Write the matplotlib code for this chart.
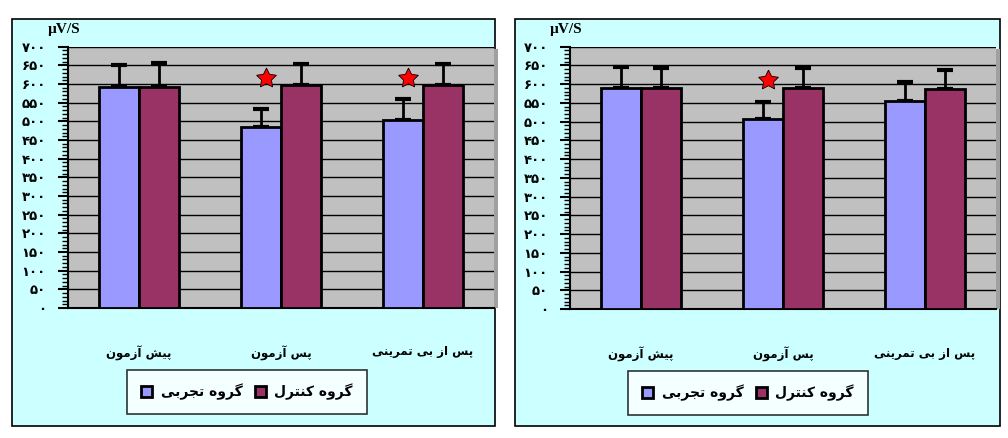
import matplotlib
matplotlib.use('Agg')
import matplotlib.pyplot as plt
from matplotlib.patches import Rectangle
from matplotlib.ticker import MultipleLocator, FuncFormatter
import numpy as np

# data
categories = ['پیش آزمون', 'پس آزمون', 'پس از بی تمرینی']
series_names = ['گروه تجربی', 'گروه کنترل']

left_exp = [591, 484, 504]
left_exp_err = [60, 48, 56]
left_ctl = [591, 597, 597]
left_ctl_err = [64, 57, 57]
left_sig = [False, True, True]

right_exp = [591, 508, 555]
right_exp_err = [56, 45, 51]
right_ctl = [591, 591, 587]
right_ctl_err = [51, 51, 52]
right_sig = [False, True, False]

unit_label = 'µV/S'

# --- tiny Persian shaper (matplotlib 3.10 has no Arabic shaping) ---
FORMS = {  # isolated, final, initial, medial
    'ا': ('\uFE8D', '\uFE8E'), 'آ': ('\uFE81', '\uFE82'),
    'ب': ('\uFE8F', '\uFE90', '\uFE91', '\uFE92'),
    'پ': ('\uFB56', '\uFB57', '\uFB58', '\uFB59'),
    'ت': ('\uFE95', '\uFE96', '\uFE97', '\uFE98'),
    'ج': ('\uFE9D', '\uFE9E', '\uFE9F', '\uFEA0'),
    'ر': ('\uFEAD', '\uFEAE'), 'ز': ('\uFEAF', '\uFEB0'),
    'س': ('\uFEB1', '\uFEB2', '\uFEB3', '\uFEB4'),
    'ش': ('\uFEB5', '\uFEB6', '\uFEB7', '\uFEB8'),
    'ک': ('\uFB8E', '\uFB8F', '\uFB90', '\uFB91'),
    'گ': ('\uFB92', '\uFB93', '\uFB94', '\uFB95'),
    'ل': ('\uFEDD', '\uFEDE', '\uFEDF', '\uFEE0'),
    'م': ('\uFEE1', '\uFEE2', '\uFEE3', '\uFEE4'),
    'ن': ('\uFEE5', '\uFEE6', '\uFEE7', '\uFEE8'),
    'ه': ('\uFEE9', '\uFEEA', '\uFEEB', '\uFEEC'),
    'و': ('\uFEED', '\uFEEE'),
    'ی': ('\uFBFC', '\uFBFD', '\uFBFE', '\uFBFF'),
}


def fa(s):
    out = []
    for i, c in enumerate(s):
        if c not in FORMS:
            out.append(c)
            continue
        prev = s[i - 1] if i > 0 else ''
        nxt = s[i + 1] if i + 1 < len(s) else ''
        join_prev = prev in FORMS and len(FORMS[prev]) == 4
        join_next = len(FORMS[c]) == 4 and nxt in FORMS
        f = FORMS[c]
        if join_prev and join_next:
            out.append(f[3])
        elif join_prev:
            out.append(f[1])
        elif join_next:
            out.append(f[2])
        else:
            out.append(f[0])
    return ''.join(out)[::-1]


def fa_digits(v, pos=None):
    if v < 0:
        return ''
    return ''.join(chr(0x06F0 + int(d)) for d in str(int(round(v))))


W, H = 1008, 438
fig = plt.figure(figsize=(W / 100, H / 100), dpi=100)
fig.patch.set_facecolor('white')

blue = '#9999FF'
red = '#993366'
width = 0.285


def px_rect(x0, y0, x1, y1):
    return [x0 / W, 1 - y1 / H, (x1 - x0) / W, (y1 - y0) / H]


def draw_panel(panel, axbox, exp, exp_err, ctl, ctl_err, sig, legend_center):
    r = px_rect(*panel)
    fig.add_artist(Rectangle((r[0], r[1]), r[2], r[3], transform=fig.transFigure,
                             facecolor='#CCFFFF', edgecolor='black', lw=1.2, zorder=-5))
    # slight shadow on the right side of the grey plot area
    s = px_rect(axbox[2], axbox[1] + 2, axbox[2] + 4, axbox[3])
    fig.add_artist(Rectangle((s[0], s[1]), s[2], s[3], transform=fig.transFigure,
                             facecolor='#A0A0A0', edgecolor='none', zorder=-4))
    ax = fig.add_axes(px_rect(*axbox))
    ax.set_facecolor('#C0C0C0')
    x = np.arange(len(categories))
    b1 = ax.bar(x - width / 2, exp, width, color=blue, edgecolor='black', lw=2,
                label=fa(series_names[0]), zorder=3)
    b2 = ax.bar(x + width / 2, ctl, width, color=red, edgecolor='black', lw=2,
                label=fa(series_names[1]), zorder=3)
    ax.errorbar(x - width / 2, exp, yerr=[np.zeros(3), exp_err], fmt='none',
                ecolor='black', elinewidth=2, capsize=5.5, capthick=3, zorder=2)
    ax.errorbar(x + width / 2, ctl, yerr=[np.zeros(3), ctl_err], fmt='none',
                ecolor='black', elinewidth=2, capsize=5.5, capthick=3, zorder=2)
    for i, s in enumerate(sig):
        if s:
            ax.plot(i - width / 2 + 0.04, ctl[i] + 20, marker=(5, 1, 0), ms=15,
                    mfc='red', mec='black', mew=0.6, zorder=5, clip_on=False)
    ax.set_xlim(-0.5, 2.5)
    ax.set_ylim(0, 700)
    ax.yaxis.set_major_locator(MultipleLocator(50))
    ax.yaxis.set_minor_locator(MultipleLocator(10))
    ax.yaxis.set_major_formatter(FuncFormatter(fa_digits))
    ax.yaxis.grid(True, color='black', lw=1, zorder=1)
    ax.set_axisbelow(True)
    ax.tick_params(axis='y', which='major', length=7, width=1.5, pad=9)
    ax.tick_params(axis='y', which='minor', length=4, width=1)
    for lab in ax.get_yticklabels():
        lab.set_fontfamily('DejaVu Sans')
        lab.set_fontweight('bold')
        lab.set_fontsize(9.5)
    ax.set_xticks(x, [fa(c) for c in categories])
    ax.tick_params(axis='x', length=0, pad=27)
    for lab in ax.get_xticklabels():
        lab.set_fontfamily('DejaVu Sans')
        lab.set_fontweight('bold')
        lab.set_fontsize(8.5)
    for sp in ['top', 'right']:
        ax.spines[sp].set_visible(False)
    ax.spines['left'].set_linewidth(1.5)
    ax.spines['bottom'].set_linewidth(1.5)
    ax.text(-0.01, 1.064, unit_label, transform=ax.transAxes, ha='center', va='center',
            fontfamily='Liberation Serif', fontweight='bold', fontsize=11)
    leg = fig.legend(handles=[b1, b2], loc='center', ncol=2,
                     bbox_to_anchor=(legend_center[0] / W, 1 - legend_center[1] / H),
                     frameon=True, fancybox=False, handlelength=0.8, handleheight=0.8,
                     handletextpad=0.6, columnspacing=0.9, borderpad=1.0,
                     prop={'family': 'DejaVu Sans', 'weight': 'bold', 'size': 10})
    leg.get_frame().set_edgecolor('black')
    leg.get_frame().set_linewidth(1.2)
    return ax


draw_panel((12, 19, 495, 426), (68, 46.7, 494, 308),
           left_exp, left_exp_err, left_ctl, left_ctl_err, left_sig, (247, 392))
draw_panel((515, 19, 1000, 426), (570, 46.7, 996, 309),
           right_exp, right_exp_err, right_ctl, right_ctl_err, right_sig, (748, 393))

fig.savefig('out.png', dpi=100)
